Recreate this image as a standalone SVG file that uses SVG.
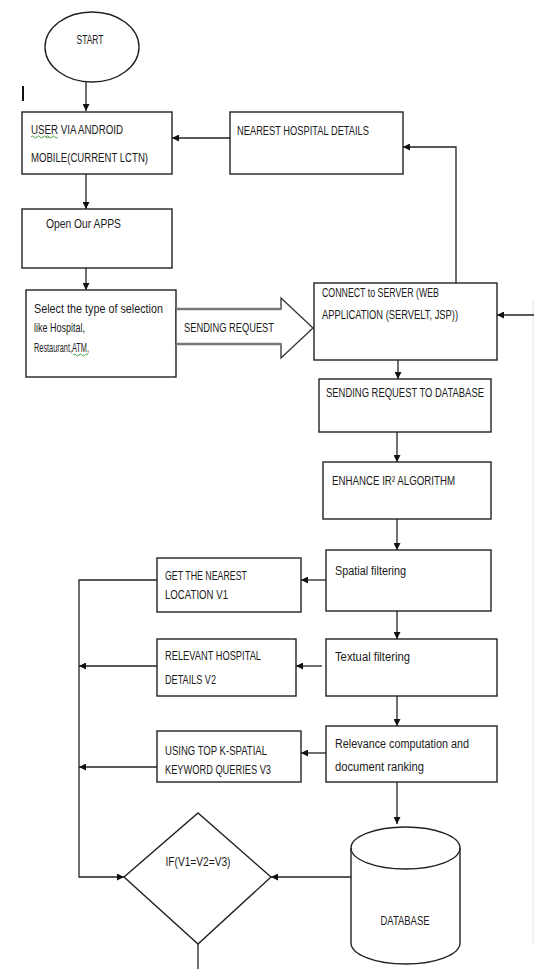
<svg xmlns="http://www.w3.org/2000/svg" width="534" height="969" viewBox="0 0 534 969">
<style>
.b{fill:#fff;stroke:#222;stroke-width:1.4}
.t{font-family:"Liberation Sans",Arial,sans-serif;font-size:12.5px;fill:#1a1a1a}
.c{fill:none;stroke:#222;stroke-width:1.3}
.sq{fill:none;stroke:#3a9a3a;stroke-width:0.9}
</style>
<defs>
<marker id="ah" viewBox="0 0 10 10" refX="10" refY="5" markerWidth="7" markerHeight="7" markerUnits="userSpaceOnUse" orient="auto">
<path d="M0,0 L10,5 L0,10 Z" fill="#111"/>
</marker>
</defs>
<rect width="534" height="969" fill="#fff"/>
<line x1="533" y1="300" x2="533" y2="945" stroke="#e4e4e4" stroke-width="1"/>
<line x1="23" y1="86" x2="23" y2="101" stroke="#111" stroke-width="2"/>

<g id="connectors">
<line class="c" x1="86" y1="82" x2="86" y2="111" marker-end="url(#ah)"/>
<line class="c" x1="230" y1="138" x2="172" y2="138" marker-end="url(#ah)"/>
<polyline class="c" points="456,283 456,147 403,147" marker-end="url(#ah)"/>
<line class="c" x1="86" y1="174" x2="86" y2="209" marker-end="url(#ah)"/>
<line class="c" x1="86" y1="268" x2="86" y2="290" marker-end="url(#ah)"/>
<line class="c" x1="534" y1="315" x2="497" y2="315" marker-end="url(#ah)"/>
<line class="c" x1="398" y1="360" x2="398" y2="379" marker-end="url(#ah)"/>
<line class="c" x1="397" y1="432" x2="397" y2="462" marker-end="url(#ah)"/>
<line class="c" x1="397" y1="519" x2="397" y2="550" marker-end="url(#ah)"/>
<line class="c" x1="326" y1="580" x2="301" y2="580" marker-end="url(#ah)"/>
<line class="c" x1="397" y1="611" x2="397" y2="639" marker-end="url(#ah)"/>
<line class="c" x1="322" y1="666" x2="296" y2="666" marker-end="url(#ah)"/>
<line class="c" x1="397" y1="696" x2="397" y2="726" marker-end="url(#ah)"/>
<line class="c" x1="326" y1="753" x2="301" y2="753" marker-end="url(#ah)"/>
<line class="c" x1="397" y1="782" x2="397" y2="824" marker-end="url(#ah)"/>
<polyline class="c" points="157,580 79,580 79,877 124,877" marker-end="url(#ah)"/>
<line class="c" x1="157" y1="666" x2="79" y2="666" marker-end="url(#ah)"/>
<line class="c" x1="157" y1="767" x2="79" y2="767" marker-end="url(#ah)"/>
<line class="c" x1="351" y1="877" x2="271" y2="877" marker-end="url(#ah)"/>
<line class="c" x1="198" y1="944" x2="198" y2="969"/>
</g>

<g id="start">
<ellipse class="b" cx="92" cy="47" rx="47" ry="35"/>
<text class="t" x="90" y="44" text-anchor="middle" textLength="27" lengthAdjust="spacingAndGlyphs">START</text>
</g>

<g id="user">
<rect class="b" x="22" y="112" width="150" height="62"/>
<text class="t" x="31" y="134" textLength="92" lengthAdjust="spacingAndGlyphs">USER  VIA ANDROID</text>
<text class="t" x="31" y="162" textLength="117" lengthAdjust="spacingAndGlyphs">MOBILE(CURRENT LCTN)</text>
<path class="sq" d="M31,137 q1.5,-2 3,0 t3,0 t3,0 t3,0 t3,0 t3,0 M46,137 q1.5,-2 3,0 t3,0 t3,0 t3,0"/>
</g>

<g id="nearest">
<rect class="b" x="230" y="112" width="173" height="62"/>
<text class="t" x="237" y="135" textLength="132" lengthAdjust="spacingAndGlyphs">NEAREST HOSPITAL DETAILS</text>
</g>

<g id="open">
<rect class="b" x="22" y="209" width="150" height="59"/>
<text class="t" x="46" y="228" textLength="75" lengthAdjust="spacingAndGlyphs">Open Our APPS</text>
</g>

<g id="select">
<rect class="b" x="26" y="290" width="150" height="87"/>
<text class="t" x="34" y="313" textLength="129" lengthAdjust="spacingAndGlyphs">Select the type of selection</text>
<text class="t" x="34" y="332" textLength="51" lengthAdjust="spacingAndGlyphs">like Hospital,</text>
<text class="t" x="34" y="352" textLength="55" lengthAdjust="spacingAndGlyphs">Restaurant,ATM,</text>
<path class="sq" d="M73,355 q1.5,-2 3,0 t3,0 t3,0 t3,0 t3,0"/>
</g>

<g id="sending-request-arrow">
<polygon points="176,309 281,309 281,298 313,328 281,358 281,344 176,344" fill="#fff" stroke="#333" stroke-width="1.3"/>
<line x1="176" y1="309" x2="281" y2="309" stroke="#777" stroke-width="2.4"/>
<line x1="176" y1="344" x2="281" y2="344" stroke="#777" stroke-width="2.4"/>
<text class="t" x="184" y="332" textLength="90" lengthAdjust="spacingAndGlyphs">SENDING REQUEST</text>
</g>

<g id="connect">
<rect class="b" x="314" y="283" width="183" height="77"/>
<text class="t" x="322" y="297" textLength="117" lengthAdjust="spacingAndGlyphs">CONNECT to SERVER (WEB</text>
<text class="t" x="322" y="319" textLength="136" lengthAdjust="spacingAndGlyphs">APPLICATION (SERVELT, JSP))</text>
</g>

<g id="send-db">
<rect class="b" x="319" y="379" width="172" height="53"/>
<text class="t" x="326" y="397" textLength="158" lengthAdjust="spacingAndGlyphs">SENDING REQUEST TO DATABASE</text>
</g>

<g id="enhance">
<rect class="b" x="323" y="462" width="168" height="57"/>
<text class="t" x="332" y="485" textLength="123" lengthAdjust="spacingAndGlyphs">ENHANCE IR² ALGORITHM</text>
</g>

<g id="spatial">
<rect class="b" x="326" y="550" width="165" height="61"/>
<text class="t" x="335" y="575" textLength="71" lengthAdjust="spacingAndGlyphs">Spatial filtering</text>
</g>

<g id="get-nearest">
<rect class="b" x="157" y="558" width="144" height="54"/>
<text class="t" x="165" y="580" textLength="82" lengthAdjust="spacingAndGlyphs">GET THE NEAREST</text>
<text class="t" x="165" y="599" textLength="63" lengthAdjust="spacingAndGlyphs">LOCATION V1</text>
</g>

<g id="textual">
<rect class="b" x="326" y="639" width="171" height="57"/>
<text class="t" x="335" y="661" textLength="75" lengthAdjust="spacingAndGlyphs">Textual filtering</text>
</g>

<g id="relevant">
<rect class="b" x="157" y="639" width="139" height="57"/>
<text class="t" x="165" y="660" textLength="96" lengthAdjust="spacingAndGlyphs">RELEVANT HOSPITAL</text>
<text class="t" x="165" y="684" textLength="51" lengthAdjust="spacingAndGlyphs">DETAILS V2</text>
</g>

<g id="relevance">
<rect class="b" x="326" y="726" width="171" height="56"/>
<text class="t" x="335" y="748" textLength="134" lengthAdjust="spacingAndGlyphs">Relevance computation and</text>
<text class="t" x="335" y="771" textLength="89" lengthAdjust="spacingAndGlyphs">document ranking</text>
</g>

<g id="using">
<rect class="b" x="157" y="731" width="144" height="51"/>
<text class="t" x="165" y="755" textLength="102" lengthAdjust="spacingAndGlyphs">USING TOP K-SPATIAL</text>
<text class="t" x="165" y="774" textLength="106" lengthAdjust="spacingAndGlyphs">KEYWORD QUERIES V3</text>
</g>

<g id="database">
<path class="b" d="M351,848 L351,943 A54.5,21 0 0 0 460,943 L460,848 A54.5,21 0 0 0 351,848 Z"/>
<path class="c" d="M351,848 A54.5,21 0 0 0 460,848"/>
<text class="t" x="405" y="925" text-anchor="middle" textLength="49" lengthAdjust="spacingAndGlyphs">DATABASE</text>
</g>

<g id="decision">
<polygon class="b" points="124,877 198,813 271,877 198,944"/>
<text class="t" x="198" y="866" text-anchor="middle" textLength="65" lengthAdjust="spacingAndGlyphs">IF(V1=V2=V3)</text>
</g>
</svg>
